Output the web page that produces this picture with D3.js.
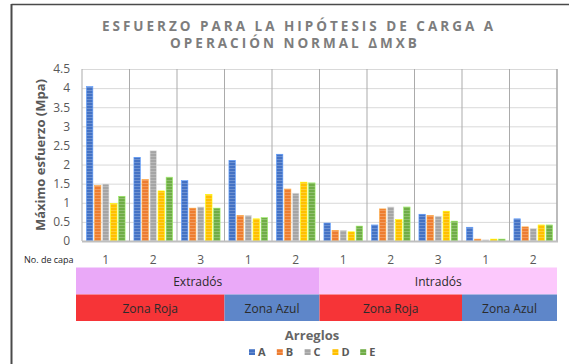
<!DOCTYPE html>
<html>
<head>
<meta charset="utf-8">
<script src="https://cdn.jsdelivr.net/npm/d3@7"></script>
<style>
  html, body { margin: 0; padding: 0; background: #fff; }
  svg { display: block; font-family: "Open Sans", "Noto Sans", sans-serif; }
</style>
</head>
<body>
<svg id="chart" width="569" height="364"></svg>
<script>
// Layer numbers (No. de capa) for the ten column groups
const layers = ["1", "2", "3", "1", "2", "1", "2", "3", "1", "2"];
// Arrangement series
const series = ["A", "B", "C", "D", "E"];
// Maximum stress (MPa) per arrangement, one value per column group
const valuesA = [4.04, 2.19, 1.58, 2.11, 2.27, 0.47, 0.42, 0.70, 0.36, 0.58];
const valuesB = [1.45, 1.61, 0.86, 0.67, 1.36, 0.28, 0.84, 0.67, 0.05, 0.37];
const valuesC = [1.49, 2.36, 0.89, 0.67, 1.25, 0.28, 0.89, 0.65, 0.03, 0.33];
const valuesD = [0.98, 1.31, 1.22, 0.58, 1.54, 0.24, 0.56, 0.78, 0.05, 0.42];
const valuesE = [1.17, 1.67, 0.86, 0.61, 1.52, 0.39, 0.89, 0.52, 0.05, 0.42];
// Y axis ticks
const yTicks = [0, 0.5, 1, 1.5, 2, 2.5, 3, 3.5, 4, 4.5];
// Category tiers below the axis (labels and how many groups each covers)
const sideLabels = ["Extradós", "Intradós"];
const sideSpans = [5, 5];
const zoneLabels = ["Zona Roja", "Zona Azul", "Zona Roja", "Zona Azul"];
const zoneSpans = [3, 2, 3, 2];

const seriesValues = [valuesA, valuesB, valuesC, valuesD, valuesE];
const seriesColors = ["#4472c4", "#ed7d31", "#a5a5a5", "#ffc000", "#70ad47"];
const sideColors = ["#eaa9f8", "#fcc8fc"];
const zoneColors = ["#f63437", "#5e86c9", "#f63437", "#5e86c9"];

const svg = d3.select("#chart");
const plot = { left: 82, right: 557, top: 69, bottom: 241 };

// Frame lines of the chart area
svg.append("line").attr("x1", 11.5).attr("x2", 569).attr("y1", 4.5).attr("y2", 4.5)
  .attr("stroke", "#4a4a4a").attr("stroke-width", 1.5);
svg.append("line").attr("x1", 11.5).attr("x2", 11.5).attr("y1", 4).attr("y2", 364)
  .attr("stroke", "#4a4a4a").attr("stroke-width", 2);

// Title
const title = svg.append("text").attr("text-anchor", "middle")
  .attr("fill", "#7d7d7d").attr("font-weight", 700).attr("font-size", 13.5)
  .style("letter-spacing", "3px");
title.append("tspan").attr("x", 299).attr("y", 31).text("ESFUERZO PARA LA HIPÓTESIS DE CARGA A");
title.append("tspan").attr("x", 295).attr("y", 48).text("OPERACIÓN NORMAL ΔMXB");

// Stripe patterns for the bar fills
const defs = svg.append("defs");
seriesColors.forEach((c, i) => {
  const p = defs.append("pattern").attr("id", "pat" + i)
    .attr("patternUnits", "userSpaceOnUse").attr("width", 4).attr("height", 3);
  p.append("rect").attr("width", 4).attr("height", 3).attr("fill", c);
  p.append("rect").attr("width", 4).attr("height", 1).attr("fill", "#fff").attr("opacity", 0.22);
});

const groupIdx = d3.range(layers.length);
const x0 = d3.scaleBand().domain(groupIdx).range([plot.left, plot.right]).padding(0);
const x1 = d3.scaleBand().domain(series).range([0, x0.bandwidth()])
  .paddingInner(0.2).paddingOuter(0.55);
const y = d3.scaleLinear().domain([0, 4.5]).range([plot.bottom, plot.top]);

// Horizontal gridlines
svg.append("g").selectAll("line").data(yTicks.filter(t => t > 0)).join("line")
  .attr("x1", plot.left).attr("x2", plot.right)
  .attr("y1", d => y(d) + 0.5).attr("y2", d => y(d) + 0.5)
  .attr("stroke", "#d9d9d9").attr("stroke-width", 1);

// Vertical separators between groups
const seps = groupIdx.map(i => x0(i)).concat([plot.right]);
svg.append("g").selectAll("line").data(seps).join("line")
  .attr("x1", d => d).attr("x2", d => d)
  .attr("y1", plot.top).attr("y2", plot.bottom)
  .attr("stroke", "#ababab").attr("stroke-width", (d, i) => i === seps.length - 1 ? 1.6 : 1);

// Bars
const barG = svg.append("g");
groupIdx.forEach(g => {
  series.forEach((s, si) => {
    const v = seriesValues[si][g];
    barG.append("rect")
      .attr("x", x0(g) + x1(s))
      .attr("y", y(v))
      .attr("width", x1.bandwidth())
      .attr("height", y(0) - y(v))
      .attr("fill", `url(#pat${si})`)
      .attr("stroke", d3.color(seriesColors[si]).brighter(0.9))
      .attr("stroke-width", 0.6);
  });
});

// Baseline
svg.append("line").attr("x1", plot.left).attr("x2", plot.right + 1)
  .attr("y1", plot.bottom + 0.5).attr("y2", plot.bottom + 0.5)
  .attr("stroke", "#bfbfbf").attr("stroke-width", 2);

// Y axis labels
const yAxis = d3.axisLeft(y).tickValues(yTicks).tickSize(0).tickPadding(0)
  .tickFormat(d3.format(""));
const yg = svg.append("g").attr("transform", `translate(${plot.left - 12},0)`).call(yAxis);
yg.select(".domain").remove();
yg.selectAll("text").attr("font-size", 12).attr("fill", "#595959")
  .attr("font-family", "'Open Sans', sans-serif");

// Y axis title
svg.append("text")
  .attr("transform", `translate(45,155) rotate(-90)`)
  .attr("text-anchor", "middle").attr("font-size", 13).attr("font-weight", 700)
  .attr("fill", "#595959").text("Máximo esfuerzo (Mpa)");

// Layer row
svg.append("text").attr("x", 24).attr("y", 262.5).attr("font-size", 9)
  .attr("fill", "#262626").text("No. de capa");
svg.append("g").selectAll("text").data(groupIdx).join("text")
  .attr("x", d => x0(d) + x0.bandwidth() / 2).attr("y", 263.5)
  .attr("text-anchor", "middle").attr("font-size", 12).attr("fill", "#595959")
  .text(d => layers[d]);

// Tier boxes under the axis
const tableLeft = plot.left - 6;
function drawTier(labels, spans, colors, top, height, textY) {
  let start = 0;
  labels.forEach((lab, i) => {
    const end = start + spans[i];
    const xa = start === 0 ? tableLeft : x0(start);
    const xb = end >= layers.length ? plot.right : x0(end);
    svg.append("rect").attr("x", xa).attr("y", top)
      .attr("width", xb - xa).attr("height", height).attr("fill", colors[i]);
    svg.append("text").attr("x", (xa + xb) / 2).attr("y", textY)
      .attr("text-anchor", "middle").attr("font-size", 12).attr("fill", "#2b2b2b")
      .text(lab);
    start = end;
  });
}
drawTier(sideLabels, sideSpans, sideColors, 267.5, 27, 286);
drawTier(zoneLabels, zoneSpans, zoneColors, 294.5, 26.5, 312.5);

// Legend
svg.append("text").attr("x", 312).attr("y", 340).attr("text-anchor", "middle")
  .attr("font-size", 13).attr("font-weight", 700).attr("fill", "#666")
  .text("Arreglos");
const leg = svg.append("g").selectAll("g").data(series).join("g")
  .attr("transform", (d, i) => `translate(${249 + i * 27.8},349)`);
leg.append("rect").attr("width", 6).attr("height", 6)
  .attr("fill", (d, i) => `url(#pat${i})`);
leg.append("text").attr("x", 9).attr("y", 7).attr("font-size", 11)
  .attr("font-weight", 700).attr("fill", "#595959").text(d => d);
</script>
</body>
</html>
